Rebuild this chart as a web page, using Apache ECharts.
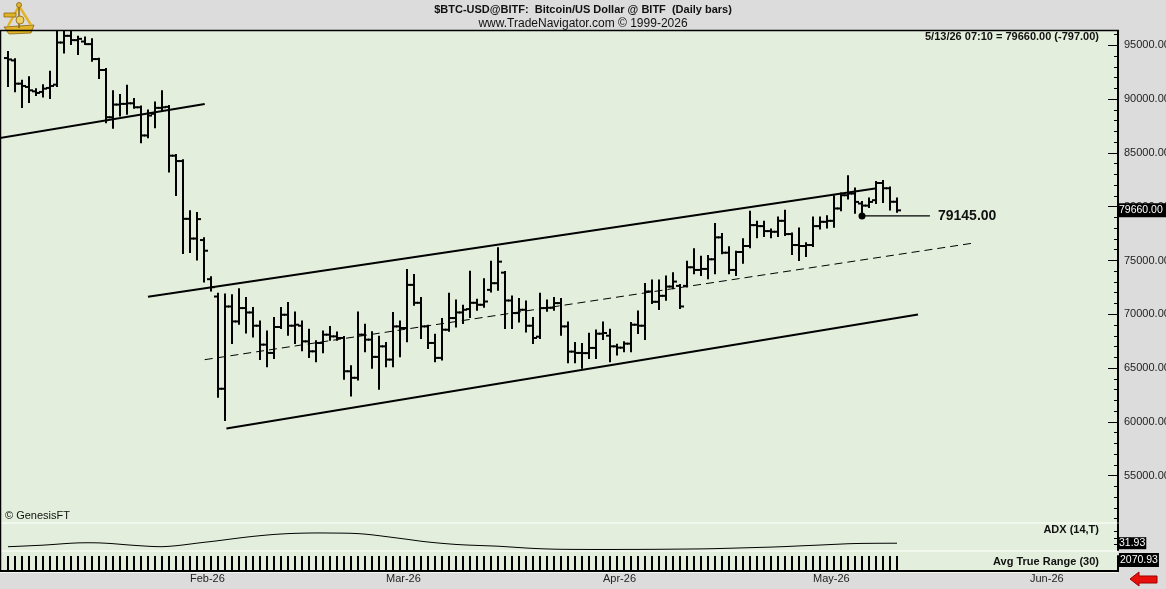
<!DOCTYPE html>
<html><head><meta charset="utf-8">
<script src="https://cdn.jsdelivr.net/npm/echarts@6/dist/echarts.min.js"></script>
<style>html,body{margin:0;padding:0;background:#dcdcdc;overflow:hidden}#c{width:1166px;height:589px}</style>
</head><body><div id="c"></div><script>
// ---- data (daily bars, first bar 2026-01-06) ----
const axisOrigin = '2026-01-05';
const firstBarDate = '2026-01-06';
const openP = [93815,93593,91435,91130,90722,90667,91037,91343,95259,95880,
95482,95352,95111,93722,92704,88315,89491,89556,89611,89241,
86620,88630,89185,89278,84741,84241,78870,77037,76898,73259,
71648,63074,70722,69333,70574,70167,68935,67176,66407,68815,
69954,68935,68935,67481,66556,67333,68102,67944,67796,64703,
64093,68102,67639,66037,67018,65787,68870,68722,72731,71065,
68870,67333,65944,68565,69648,70167,70481,71065,70880,72268,
72889,73870,71278,70111,70417,68935,67917,70574,70602,71037,
68870,66528,66407,66389,66870,68194,68009,67018,66898,67268,
69028,68935,72111,71157,71713,72574,72639,72639,74370,74120,
74213,75111,77148,75722,74120,75787,76343,78287,78194,77731,
77667,78685,77454,76435,76343,76435,78194,78593,78685,79833,
81065,81222,80296,80100,80602,82204,81713,80457];
const highP = [94370,93704,91713,92037,90926,91296,92546,96806,96620,96435,
95787,95722,95574,93750,92796,90722,90389,91250,90019,89306,
88935,89676,90722,89370,84815,84306,79565,79417,77056,73444,
71898,71833,71778,72333,71500,70574,69333,68407,69648,70574,
71037,70167,69333,68565,67481,68407,68815,68315,67889,65167,
70167,69028,68333,67917,67333,70111,69333,74120,73657,71500,
68935,68102,69555,71898,71278,70787,73963,71343,73259,74889,
76130,73935,71648,71407,71185,69648,71898,71278,71500,71407,
69241,67333,67241,68194,68500,69241,68565,67176,67389,69185,
70259,72824,73130,73130,73500,73815,72731,74889,76037,75352,
75417,78380,77454,76222,75815,76963,79519,78593,78593,77889,
79000,79611,77518,77981,76593,79000,79000,79120,80972,81222,
82824,81685,80444,80759,82296,82389,81778,80759];
const lowP = [91222,90741,89259,89722,90370,90231,90111,91222,94333,95111,
94185,95111,93565,91963,87852,87333,88472,88630,89185,86000,
86463,87389,88935,83259,81093,75694,75787,75093,73037,72204,
62333,60167,67333,69120,68315,67944,65852,65167,65944,68722,
68102,67333,66648,66037,65630,66463,67639,67639,64000,62454,
63935,66556,65019,63074,65167,65167,66093,67481,70880,67796,
66870,65630,65787,68472,68870,69185,69741,70417,70694,72111,
72268,68722,68722,69333,68407,67333,67796,70324,70417,68102,
65537,65537,65019,65944,65944,67704,65630,66250,66556,66556,
68259,67704,71037,70481,71343,72426,70574,72574,73815,73657,
73352,73815,75667,73815,73657,74796,76222,77148,77268,77148,
77268,77361,75602,75046,75417,76343,77981,78074,78130,79676,
80759,79426,79145,79981,80352,80444,79741,79519];
const closeP = [93685,91435,91222,90815,90574,90972,91222,95259,95880,95482,
95602,95111,93722,92704,88315,89491,89556,89611,89241,86620,
88472,89185,89241,84741,84241,78870,77037,78843,75907,72518,
63074,70722,69333,70574,70167,68935,67176,66407,68815,69954,
68935,69028,67481,66556,67333,68102,67944,67796,64703,64093,
68102,67639,66037,67018,65787,68870,68722,72731,71065,68870,
67333,65944,68565,69648,70167,70417,71065,70880,71185,72889,
74889,71278,70111,70417,68935,67796,70574,70602,71037,68870,
66528,66407,66389,66870,68194,68259,67018,66898,67268,69028,
68935,72111,71157,71713,72574,73037,70722,74370,74120,74213,
75111,77148,75722,74120,75787,76343,78287,78194,77731,77667,
78685,77454,76435,76343,76435,78194,78593,78685,79833,81065,
81222,80444,80100,80444,82204,81713,80457,79660];
const adxValues = [26.5,26.9,27.4,27.9,28.4,28.9,29.6,30.4,31.2,31.9,
32.4,32.6,32.6,32.4,31.9,31.2,30.3,29.4,28.6,27.9,
27.2,26.7,26.5,27.1,28.0,29.2,30.6,32.0,33.3,34.5,
35.8,37.2,38.6,40.0,41.3,42.5,43.6,44.6,45.5,46.2,
46.8,47.2,47.5,47.7,47.8,47.8,47.7,47.6,47.5,47.3,
46.8,46.0,44.9,43.6,42.2,40.8,39.4,38.0,36.5,35.0,
33.8,32.7,31.7,30.8,30.0,29.4,28.9,28.5,28.1,27.7,
27.3,26.6,25.9,25.2,24.5,23.9,23.4,23.0,22.7,22.5,
22.4,22.3,22.3,22.2,22.2,22.2,22.2,22.2,22.3,22.3,
22.3,22.4,22.4,22.5,22.6,22.7,22.8,22.9,23.0,23.1,
23.3,23.5,23.8,24.1,24.4,24.7,25.0,25.3,25.6,25.9,
26.3,26.7,27.2,27.7,28.2,28.6,29.1,29.6,30.1,30.6,
31.1,31.4,31.6,31.7,31.8,31.85,31.9,31.93];
const atrValues = [2380,2360,2350,2340,2300,2290,2330,2420,2450,2440,
2430,2410,2420,2400,2470,2490,2480,2500,2480,2510,
2520,2530,2520,2620,2680,2880,2930,2970,3010,2990,
3260,3620,3650,3640,3630,3610,3600,3590,3560,3520,
3480,3450,3410,3380,3350,3320,3260,3230,3250,3230,
3280,3250,3240,3260,3210,3240,3200,3260,2920,2950,
2900,2880,2920,2930,2880,2820,2850,2780,2760,2710,
2720,2750,2730,2680,2650,2640,2650,2600,2560,2570,
2580,2540,2520,2500,2470,2430,2420,2380,2350,2360,
2330,2350,2320,2290,2270,2240,2250,2260,2240,2200,
2190,2250,2220,2210,2200,2190,2220,2180,2150,2130,
2130,2140,2130,2140,2110,2120,2090,2070,2080,2060,
2090,2100,2090,2060,2080,2075,2085,2070.93];
const priceTickLabels = [55000,60000,65000,70000,75000,80000,85000,90000,95000];
const monthLabels = ['Feb-26','Mar-26','Apr-26','May-26','Jun-26'];
const monthStartDates = ['2026-02-01','2026-03-01','2026-04-01','2026-05-01','2026-06-01'];
// trend lines: [dayIndex from axisOrigin, price]
const upperLeftLine = [[-1, 86283], [29.1, 89536]];
const channelUpper = [[21, 71633], [125.1, 81707]];
const channelLower = [[32.2, 59378], [131, 69981]];
const channelMid = [[29.1, 65779], [138.7, 76596]];
const markedLowIndex = 122;
const markedLowLineEnd = 132.7;
const lastTime = '07:10';

// ---- helpers ----
const DAY = 864e5;
const dayOf = s => (Date.parse(s) - Date.parse(axisOrigin)) / DAY;
const first = dayOf(firstBarDate);
const ohlcData = openP.map((o, i) => [first + i, o, highP[i], lowP[i], closeP[i]]);
const adxData = adxValues.map((v, i) => [first + i, v]);
const atrData = atrValues.map((v, i) => [first + i, v]);
const monthDays = monthStartDates.map(dayOf);
const n = closeP.length;
const lastClose = closeP[n - 1];
const change = lastClose - closeP[n - 2];
const lastDate = new Date(Date.parse(firstBarDate) + (n - 1) * DAY);
const dateStr = (lastDate.getUTCMonth() + 1) + '/' + lastDate.getUTCDate() + '/' + String(lastDate.getUTCFullYear()).slice(2);
const fmt2 = v => v.toFixed(2);
const minorTicks = [];
for (let v = 51000; v <= 96000; v += 1000) minorTicks.push(v);

const FONT = '"Liberation Sans", Arial, sans-serif';
const PLOT_L = 1, PLOT_R = 1118;
const XMAX = (PLOT_R - PLOT_L) / 7;
const G = {l: PLOT_L, r: 1166 - PLOT_R};

function renderOHLC(params, api) {
  const x = api.value(0);
  const o = api.coord([x, api.value(1)]);
  const h = api.coord([x, api.value(2)]);
  const l = api.coord([x, api.value(3)]);
  const c = api.coord([x, api.value(4)]);
  const st = {stroke: '#000', lineWidth: 2};
  return {type: 'group', children: [
    {type: 'line', shape: {x1: h[0], y1: h[1] - 1, x2: l[0], y2: l[1] + 1}, style: st},
    {type: 'line', shape: {x1: o[0] - 4, y1: o[1], x2: o[0], y2: o[1]}, style: st},
    {type: 'line', shape: {x1: c[0], y1: c[1], x2: c[0] + 4, y2: c[1]}, style: st}
  ]};
}

const chart = echarts.init(document.getElementById('c'), null, {renderer: 'canvas'});
const hiddenX = (gi) => ({type: 'value', gridIndex: gi, min: 0, max: XMAX, show: false});
const lineSeries = (pts, dashed) => ({
  type: 'line', xAxisIndex: 0, yAxisIndex: 0, data: pts, showSymbol: false, silent: true,
  clip: true, z: 3,
  lineStyle: {color: '#000', width: dashed ? 1 : 2, type: dashed ? [8, 5] : 'solid'}
});
const gridBase = {left: G.l, right: G.r, containLabel: false, outerBoundsMode: 'none'};
const GOLD = '#e2b42a', GOLD_D = '#8a6410';

chart.setOption({
  animation: false,
  backgroundColor: '#dcdcdc',
  textStyle: {fontFamily: FONT},
  grid: [
    Object.assign({top: 31, height: 491}, gridBase),
    Object.assign({top: 524, height: 26}, gridBase),
    Object.assign({top: 556, height: 15}, gridBase)
  ],
  xAxis: [
    hiddenX(0), hiddenX(1),
    {type: 'value', gridIndex: 2, min: 0, max: XMAX,
     axisLine: {show: true, onZero: false, lineStyle: {color: '#000', width: 2}},
     axisTick: {show: false}, splitLine: {show: false},
     axisLabel: {customValues: monthDays, align: 'left', margin: 2, color: '#222', fontSize: 11, fontFamily: FONT,
       formatter: v => monthLabels[monthDays.indexOf(v)] || ''}}
  ],
  yAxis: [
    {type: 'value', gridIndex: 0, position: 'right', min: 50690, max: 96330,
     axisLine: {show: true, onZero: false, lineStyle: {color: '#000', width: 2}},
     axisTick: {show: true, inside: true, length: 10, customValues: priceTickLabels, lineStyle: {color: '#000', width: 1}},
     splitLine: {show: false},
     axisLabel: {customValues: priceTickLabels, formatter: v => v.toFixed(2), color: '#222', fontSize: 11, margin: 6, fontFamily: FONT}},
    {type: 'value', gridIndex: 0, position: 'right', min: 50690, max: 96330,
     axisLine: {show: false, onZero: false}, splitLine: {show: false}, axisLabel: {show: false},
     axisTick: {show: true, inside: true, length: 4, customValues: minorTicks, lineStyle: {color: '#000', width: 1}}},
    {type: 'value', gridIndex: 0, position: 'right', min: 50690, max: 96330,
     axisLine: {show: false, onZero: false}, splitLine: {show: false}, axisTick: {show: false},
     axisLabel: {customValues: [lastClose], formatter: v => fmt2(v), color: '#fff', backgroundColor: '#000',
       padding: [2, 6, 1, 1], margin: 0, fontSize: 10.5, fontFamily: FONT}},
    {type: 'value', gridIndex: 1, position: 'right', min: 21.4, max: 61.7,
     axisLine: {show: true, onZero: false, lineStyle: {color: '#000', width: 2}}, splitLine: {show: false},
     axisTick: {show: true, inside: true, length: 4, customValues: [30, 40, 50], lineStyle: {color: '#000'}},
     axisLabel: {customValues: [adxValues[n - 1]], formatter: v => fmt2(v), color: '#fff', backgroundColor: '#000',
       padding: [1, 1, 0, 1], margin: 0, fontSize: 10.5, fontFamily: FONT}},
    {type: 'value', gridIndex: 2, position: 'right', min: 0, max: 2000,
     axisLine: {show: true, onZero: false, lineStyle: {color: '#000', width: 2}}, splitLine: {show: false},
     axisTick: {show: false}, axisLabel: {show: false}}
  ],
  graphic: [
    {type: 'rect', z: -10, silent: true, shape: {x: 0, y: 30, width: 1118, height: 543}, style: {fill: '#f3f8ef'}},
    {type: 'rect', z: -9, silent: true, shape: {x: 0, y: 30, width: 1118, height: 492}, style: {fill: '#e3efdc'}},
    {type: 'rect', z: -9, silent: true, shape: {x: 0, y: 524, width: 1118, height: 26}, style: {fill: '#e3efdc'}},
    {type: 'rect', z: -9, silent: true, shape: {x: 0, y: 552, width: 1118, height: 20}, style: {fill: '#e3efdc'}},
    {type: 'line', z: 10, silent: true, shape: {x1: 0, y1: 30.5, x2: 1119, y2: 30.5}, style: {stroke: '#000', lineWidth: 1.5}},
    {type: 'line', z: 10, silent: true, shape: {x1: 0.5, y1: 30, x2: 0.5, y2: 572}, style: {stroke: '#000', lineWidth: 1.5}},
    // logo (sextant-like emblem)
    {type: 'group', z: 20, silent: true, children: [
      {type: 'polygon', shape: {points: [[4, 27], [34, 25], [31, 33], [9, 34]]}, style: {fill: GOLD, stroke: GOLD_D, lineWidth: 0.8}},
      {type: 'polyline', shape: {points: [[8, 26], [19, 6], [31, 25]]}, style: {stroke: GOLD, lineWidth: 2.5, fill: null}},
      {type: 'line', shape: {x1: 19, y1: 4, x2: 19, y2: 28}, style: {stroke: GOLD_D, lineWidth: 1.5}},
      {type: 'rect', shape: {x: 4, y: 13, width: 12, height: 4}, style: {fill: GOLD, stroke: GOLD_D, lineWidth: 0.8}},
      {type: 'circle', shape: {cx: 19, cy: 5, r: 2.5}, style: {fill: GOLD, stroke: GOLD_D, lineWidth: 0.8}},
      {type: 'circle', shape: {cx: 20, cy: 20, r: 4}, style: {fill: '#f0d060', stroke: GOLD_D, lineWidth: 0.8}}
    ]},
    {type: 'text', z: 10, silent: true, x: 583, y: 10, style: {text: '$BTC-USD@BITF:  Bitcoin/US Dollar @ BITF  (Daily bars)', font: 'bold 11px ' + FONT, fill: '#111', align: 'center', verticalAlign: 'middle'}},
    {type: 'text', z: 10, silent: true, x: 583, y: 24, style: {text: 'www.TradeNavigator.com \u00a9 1999-2026', font: '12px ' + FONT, fill: '#111', align: 'center', verticalAlign: 'middle'}},
    {type: 'text', z: 10, silent: true, x: 1099, y: 37, style: {text: dateStr + ' ' + lastTime + ' = ' + fmt2(lastClose) + ' (' + fmt2(change) + ')', font: 'bold 11px ' + FONT, fill: '#111', align: 'right', verticalAlign: 'middle'}},
    {type: 'text', z: 10, silent: true, x: 5, y: 516, style: {text: '\u00a9 GenesisFT', font: '11px ' + FONT, fill: '#111', align: 'left', verticalAlign: 'middle'}},
    {type: 'text', z: 10, silent: true, x: 1099, y: 530, style: {text: 'ADX (14,T)', font: 'bold 11px ' + FONT, fill: '#111', align: 'right', verticalAlign: 'middle'}},
    {type: 'text', z: 10, silent: true, x: 1099, y: 562, style: {text: 'Avg True Range (30)', font: 'bold 11px ' + FONT, fill: '#111', align: 'right', verticalAlign: 'middle'}},
    {type: 'text', z: 10, silent: true, x: 1119, y: 560, style: {text: fmt2(atrValues[n - 1]), font: '10.5px ' + FONT, fill: '#fff', backgroundColor: '#000', padding: [2, 1, 1, 1], align: 'left', verticalAlign: 'middle'}},
    {type: 'polygon', z: 10, silent: true, shape: {points: [[1130, 579], [1139, 572], [1139, 576], [1157, 576], [1157, 583], [1139, 583], [1139, 586]]}, style: {fill: '#e8100c', stroke: '#9a0000', lineWidth: 1}}
  ],
  series: [
    {type: 'custom', name: 'BTC', xAxisIndex: 0, yAxisIndex: 0, renderItem: renderOHLC, data: ohlcData,
     encode: {x: 0, y: [1, 2, 3, 4]}, clip: true, z: 4, silent: true},
    lineSeries(upperLeftLine, false),
    lineSeries(channelUpper, false),
    lineSeries(channelLower, false),
    lineSeries(channelMid, true),
    {type: 'line', xAxisIndex: 0, yAxisIndex: 0, silent: true, z: 5, showAllSymbol: true,
     data: [
       {value: [first + markedLowIndex, lowP[markedLowIndex]], symbol: 'circle', symbolSize: 7},
       {value: [markedLowLineEnd, lowP[markedLowIndex]], symbol: 'circle', symbolSize: 0.1,
        label: {show: true, position: 'right', distance: 8, formatter: () => fmt2(lowP[markedLowIndex]),
          color: '#111', fontWeight: 'bold', fontSize: 14, fontFamily: FONT}}
     ],
     itemStyle: {color: '#000'}, lineStyle: {color: '#000', width: 1.2}},
    {type: 'line', xAxisIndex: 1, yAxisIndex: 3, data: adxData, showSymbol: false, silent: true,
     lineStyle: {color: '#000', width: 1}},
    {type: 'bar', xAxisIndex: 2, yAxisIndex: 4, data: atrData, barWidth: 2, silent: true, clip: true,
     itemStyle: {color: '#000'}}
  ]
});
</script></body></html>
